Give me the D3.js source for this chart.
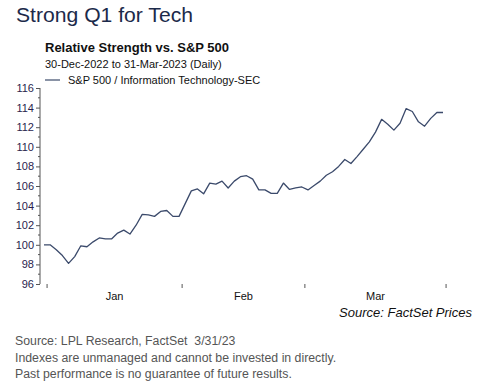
<!DOCTYPE html>
<html>
<head>
<meta charset="utf-8">
<script src="https://cdn.jsdelivr.net/npm/d3@7"></script>
<style>
  body { margin: 0; background: #fff; }
  svg { display: block; font-family: "Liberation Sans", Arial, sans-serif; }
</style>
</head>
<body>
<div id="chart-area"></div>
<script>
// relative strength, daily (weekdays 30-Dec-2022 .. 31-Mar-2023)
var values = [
  100.0, 100.0, 99.5, 98.9, 98.1, 98.8, 99.9, 99.8, 100.3, 100.7,
  100.6, 100.6, 101.2, 101.5, 101.1, 102.0, 103.1, 103.05, 102.9, 103.4,
  103.5, 102.9, 102.9, 104.2, 105.5, 105.7, 105.2, 106.3, 106.2, 106.5,
  105.8, 106.5, 106.95, 107.05, 106.7, 105.6, 105.6, 105.25, 105.25, 106.3,
  105.65, 105.8, 105.9, 105.6, 106.05, 106.5, 107.1, 107.45, 108.0, 108.7,
  108.3, 109.0, 109.75, 110.5, 111.5, 112.8, 112.3, 111.7, 112.4, 113.9,
  113.6, 112.55, 112.1, 112.9, 113.5, 113.5
];
var months = ["Jan", "Feb", "Mar"];
var yTicks = [96, 98, 100, 102, 104, 106, 108, 110, 112, 114, 116];
var seriesName = "S&P 500 / Information Technology-SEC";
var footnotes = [
  "Source: LPL Research, FactSet  3/31/23",
  "Indexes are unmanaged and cannot be invested in directly.",
  "Past performance is no guarantee of future results."
];

var dates = d3.timeDays(new Date(2022, 11, 30), new Date(2023, 3, 1))
  .filter(d => d.getDay() !== 0 && d.getDay() !== 6);

var svg = d3.select("#chart-area").append("svg")
  .attr("width", 482)
  .attr("height", 387);

var navy = "#1c2a4a";

svg.append("text").attr("x", 16).attr("y", 22)
  .attr("font-size", 20).attr("fill", navy)
  .attr("textLength", 177).attr("lengthAdjust", "spacingAndGlyphs")
  .text("Strong Q1 for Tech");

svg.append("text").attr("x", 45).attr("y", 52)
  .attr("font-size", 13).attr("font-weight", "bold").attr("fill", "#111")
  .text("Relative Strength vs. S&P 500");

svg.append("text").attr("x", 45).attr("y", 68)
  .attr("font-size", 11).attr("fill", "#111")
  .text("30-Dec-2022 to 31-Mar-2023 (Daily)");

svg.append("line").attr("x1", 45).attr("x2", 60).attr("y1", 80).attr("y2", 80)
  .attr("stroke", "#3b4a6b").attr("stroke-width", 1.2);
svg.append("text").attr("x", 68).attr("y", 84)
  .attr("font-size", 11).attr("fill", "#111")
  .text(seriesName);

var x = d3.scaleLinear().domain([0, values.length - 1]).range([44, 443]);
var y = d3.scaleLinear().domain([96, 116]).range([284, 88]);

// y axis with minor ticks
var yAxis = svg.append("g").attr("transform", "translate(40,0)")
  .call(d3.axisLeft(y).tickValues(yTicks).tickSize(4).tickPadding(2).tickFormat(d3.format("d")));
yAxis.select(".domain").attr("stroke", "#555").attr("d", "M0," + y(116) + "V" + y(96));
yAxis.selectAll(".tick line").attr("stroke", "#555");
yAxis.selectAll(".tick text").attr("font-size", 11).attr("fill", "#2a1d4e")
  .attr("font-family", "Liberation Sans, Arial, sans-serif");
yAxis.selectAll(".minor").data(d3.range(97, 116, 2)).enter().append("line")
  .attr("class", "minor").attr("x1", -2).attr("x2", 0)
  .attr("y1", d => y(d)).attr("y2", d => y(d)).attr("stroke", "#555");

// x axis: ticks at month boundaries, labels centred in each month
var bounds = [0.5];
dates.forEach((d, i) => {
  if (i > 1 && d.getMonth() !== dates[i - 1].getMonth()) bounds.push(i - 0.5);
});
bounds.push(values.length - 0.5);

svg.selectAll(".xtick").data(bounds).enter().append("line")
  .attr("class", "xtick")
  .attr("x1", d => x(d)).attr("x2", d => x(d))
  .attr("y1", 284).attr("y2", 288)
  .attr("stroke", "#555");

svg.selectAll(".month").data(months).enter().append("text")
  .attr("class", "month")
  .attr("x", (d, i) => (x(bounds[i]) + x(bounds[i + 1])) / 2)
  .attr("y", 300)
  .attr("text-anchor", "middle")
  .attr("font-size", 11).attr("fill", "#111")
  .text(d => d);

var line = d3.line().x((d, i) => x(i)).y(d => y(d));
svg.append("path").datum(values)
  .attr("d", line)
  .attr("fill", "none")
  .attr("stroke", "#3b4a6b")
  .attr("stroke-width", 1.3)
  .attr("stroke-linejoin", "round");

svg.append("text").attr("x", 472).attr("y", 317)
  .attr("text-anchor", "end")
  .attr("font-size", 13).attr("font-style", "italic").attr("fill", "#111")
  .text("Source: FactSet Prices");

svg.selectAll(".foot").data(footnotes).enter().append("text")
  .attr("class", "foot")
  .attr("x", 15).attr("y", (d, i) => 345 + i * 16.5)
  .attr("font-size", 12.3).attr("fill", "#555")
  .style("white-space", "pre")
  .text(d => d);
</script>
</body>
</html>
